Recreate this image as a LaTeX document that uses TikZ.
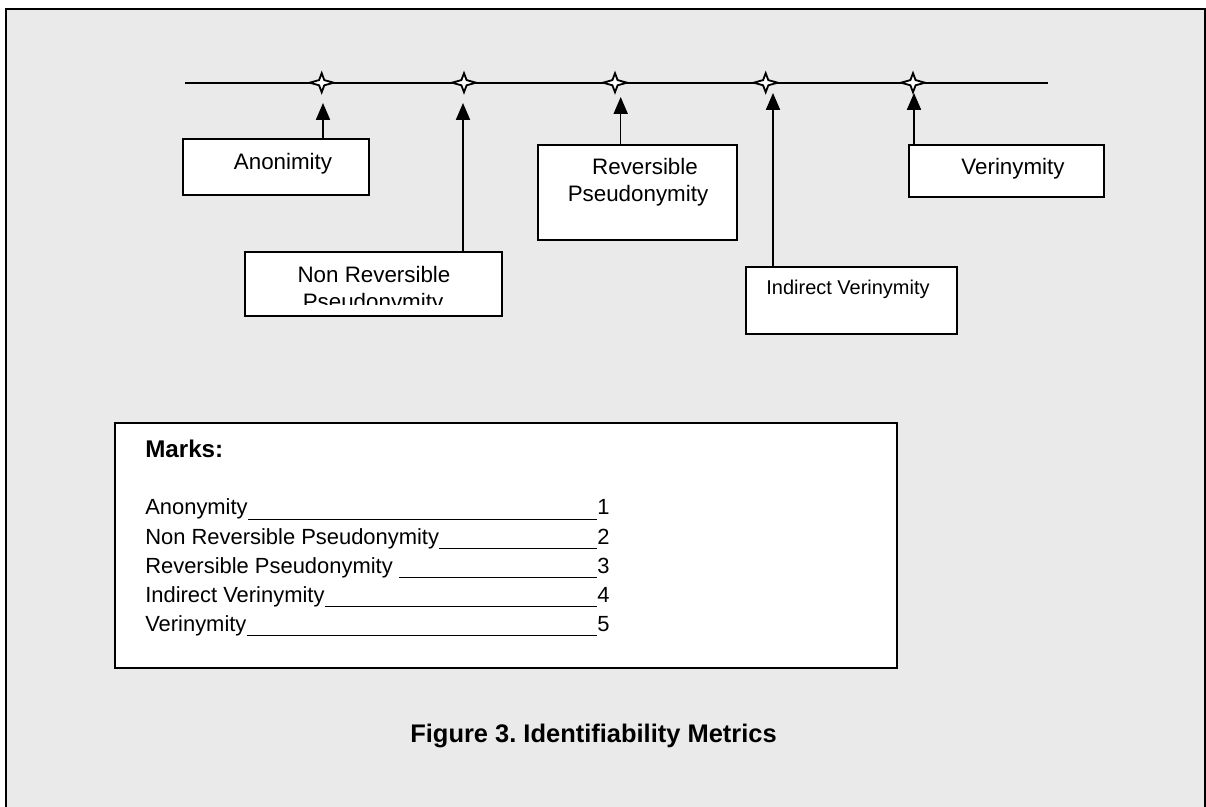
\documentclass[tikz,border=0pt]{standalone}
\usepackage{fontspec}
\setmainfont{Liberation Sans}
\usetikzlibrary{arrows.meta,calc,fit}
\definecolor{paper}{RGB}{234,234,234}
\def\markstar#1{\draw[starline,shift={(#1)}] (0,-9.5) -- (2.6,-2.6) -- (12,0) -- (2.6,2.6) -- (0,9.5) -- (-2.6,2.6) -- (-12,0) -- (-2.6,-2.6) -- cycle;}

\begin{document}
\begin{tikzpicture}[x=0.025cm,y=-0.025cm,
		framepath/.style={line width=1.4pt},
		boxnode/.style={draw,fill=white,line width=1.3pt,inner sep=0pt},
		lbl/.style={inner sep=0pt,anchor=base,font=\fontsize{15.9}{19}\selectfont},
		rowlbl/.style={inner sep=0pt,anchor=base west,font=\fontsize{15.6}{19}\selectfont},
		starline/.style={draw=black,fill=white,line width=1.3pt,line join=miter},
		pointer/.style={-{Triangle[length=12pt,width=10pt]},line width=1.1pt},
		uline/.style={line width=1.4pt}]
		%%%%% START %%%%%
		\useasboundingbox (0,0) rectangle (1206,807);
		\fill[paper] (6,9) rectangle (1205,807);
		\draw[framepath] (6,807) -- (6,9) -- (1205,9) -- (1205,807);
		
		\draw[line width=1.2pt] (185,82.7) -- (1048,82.7);
		\coordinate (s1) at (321.7,82.7);
		\coordinate (s2) at (464,82.7);
		\coordinate (s3) at (615,82.7);
		\coordinate (s4) at (765.7,82.7);
		\coordinate (s5) at (913,82.7);
		\markstar{s1}
		\markstar{s2}
		\markstar{s3}
		\markstar{s4}
		\markstar{s5}
		
		\node[boxnode,fit={(183,139) (369,195)}] (anon) {};
		\node[boxnode,fit={(245,252) (502,316)}] (nonrev) {};
		\node[boxnode,fit={(538,145) (737,240)}] (rev) {};
		\node[boxnode,fit={(746,267) (957,334)}] (indir) {};
		\node[boxnode,fit={(909,145) (1104,197)}] (verin) {};
		
		\node[lbl] (anonlbl) at (283,170) {Anonimity};
		\node[lbl] (nonrevlbl) at (374,283) {Non Reversible};
		\begin{scope}
			\clip (245,252) rectangle (502,304.5);
			\node[lbl] (nonrevlblb) at (373,309.5) {Pseudonymity};
		\end{scope}
		\node[lbl] (revlbl) at (645,175) {Reversible};
		\node[lbl] (revlblb) at (638,202) {Pseudonymity};
		\node[lbl,font=\fontsize{14.2}{17}\selectfont] (indirlbl) at (848,295) {Indirect Verinymity};
		\node[lbl] (verinlbl) at (1013,175) {Verinymity};
		
		\coordinate (t1) at (323,103);
		\coordinate (t2) at (463,103);
		\coordinate (t3) at (620.7,97);
		\coordinate (t4) at (773,93);
		\coordinate (t5) at (914,93);
		\draw[pointer] (anon.north -| t1) -- (t1);
		\draw[pointer] (nonrev.north -| t2) -- (t2);
		\draw[pointer] (rev.north -| t3) -- (t3);
		\draw[pointer] (indir.north -| t4) -- (t4);
		\draw[pointer] (verin.north -| t5) -- (t5);
		
		\node[boxnode,fit={(115,423) (897,668)}] (marks) {};
		\node[rowlbl,font=\bfseries\fontsize{17.2}{20}\selectfont] (markstitle) at (145,458) {Marks:};
		
		\node[rowlbl] (row1) at (145,515) {Anonymity};
		\node[rowlbl] (num1) at (597,515) {1};
		\draw[uline] ($(row1.base east)+(0,4.5)$) -- ($(num1.base west)+(0,4.5)$);
		\node[rowlbl] (row2) at (145,544) {Non Reversible Pseudonymity};
		\node[rowlbl] (num2) at (597,544) {2};
		\draw[uline] ($(row2.base east)+(0,4.5)$) -- ($(num2.base west)+(0,4.5)$);
		\node[rowlbl] (row3) at (145,573) {Reversible Pseudonymity};
		\node[rowlbl] (num3) at (597,573) {3};
		\draw[uline] ($(row3.base east)+(6,4.5)$) -- ($(num3.base west)+(0,4.5)$);
		\node[rowlbl] (row4) at (145,602) {Indirect Verinymity};
		\node[rowlbl] (num4) at (597,602) {4};
		\draw[uline] ($(row4.base east)+(0,4.5)$) -- ($(num4.base west)+(0,4.5)$);
		\node[rowlbl] (row5) at (145,631) {Verinymity};
		\node[rowlbl] (num5) at (597,631) {5};
		\draw[uline] ($(row5.base east)+(0,4.5)$) -- ($(num5.base west)+(0,4.5)$);
		
		\node[lbl,font=\frenchspacing\bfseries\fontsize{18.1}{22}\selectfont] (caption) at (593.5,742) {Figure 3. Identifiability Metrics};
		%%%%% END %%%%%
	\end{tikzpicture}
\end{document}
